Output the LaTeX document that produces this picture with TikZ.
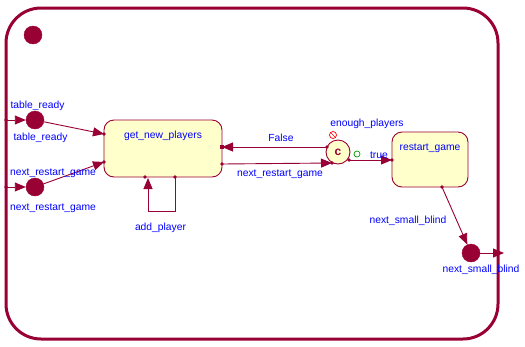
\documentclass[tikz,border=0pt]{standalone}
\usepackage{fontspec}
\setmainfont{Liberation Sans}
\usetikzlibrary{arrows.meta,calc}
\definecolor{dred}{RGB}{153,0,51}
\definecolor{lblue}{RGB}{0,0,255}
\definecolor{pale}{RGB}{255,255,204}
\tikzset{
  txt/.style={text=lblue, font=\fontsize{10.3}{12}\selectfont, inner sep=0pt, yshift=-2pt},
  dot/.style={circle, fill=dred, draw=dred, minimum size=18pt, inner sep=0pt},
  statebox/.style={draw=dred, fill=pale, line width=0.9pt, rounded corners=10pt, inner sep=0pt},
  conn/.style={draw=dred, line width=0.9pt},
  arr/.style={conn, -{Triangle[length=11pt,width=9pt]}},
  jdot/.style={circle, fill=dred, minimum size=3.6pt, inner sep=0pt},
}
\begin{document}
\begin{tikzpicture}[x=1pt,y=-1pt]
\useasboundingbox (0,0) rectangle (525,346);
% outer frame
\draw[dred, line width=3pt, rounded corners=35pt] (6,8) rectangle (498,339);
% initial
\node[dot] (init) at (33,35) {};
% entry points
\node[dot] (tr) at (35,120) {};
\node[dot] (nrg) at (35,187) {};
\coordinate (trin) at (6,120);
\coordinate (nrgin) at (6,187);
\node[jdot] at (trin) {};
\node[jdot] at (nrgin) {};
% states
\node[statebox, minimum width=118pt, minimum height=57pt] (gnp) at (163,148.5) {};
\node[txt] (gnpl) at (163,134) {get\_new\_players};
\node[statebox, minimum width=76pt, minimum height=55pt] (rg) at (430,159.5) {};
\node[txt] (rgl) at (430,146) {restart\_game};
% choice
\node[circle, draw=dred, fill=pale, line width=0.9pt, minimum size=24pt, inner sep=0pt, text=dred, font=\bfseries\fontsize{12}{14}\selectfont] (ch) at (338,152) {c};
% exit
\node[dot] (nsb) at (471,253) {};
\coordinate (nsbout) at (504,253);
% coordinates on boundaries
\coordinate (g1) at (104,134);
\coordinate (g2) at (104,162);
\coordinate (g3) at (222,147);
\coordinate (g4) at (222,164);
\coordinate (g5) at (145,177);
\coordinate (g6) at (175,177);
\coordinate (c1) at (327,147);
\coordinate (c2) at (332,163);
\coordinate (c3) at (349,160);
\coordinate (r1) at (392,160);
\coordinate (r2) at (442,187);
% connectors
\draw[arr] (trin) -- (tr.west);
\draw[arr] (nrgin) -- (nrg.west);
\draw[arr] (tr) -- (g1);
\draw[arr] (nrg) -- (g2);
\draw[arr] (g4) -- (c2);
\draw[arr] (c1) -- (g3);
\draw[arr] (c3) -- (r1);
\draw[arr] (r2) -- (nsb);
\draw[arr] (nsb) -- (nsbout);
\draw[arr] (g6) -- (175,211) -- (148,211) -- (148,178);
% junction dots
\foreach \p in {g1,g2,g4,g5,g6,c1,c2,c3,r1,r2} \node[jdot] at (\p) {};
\fill[dred] ($(g3)+(-2,-2)$) rectangle ($(g3)+(2,2)$);
% guard markers
\draw[red, line width=0.7pt] (333,135) circle (3.5pt);
\draw[red, line width=0.7pt] (330.5,132.5) -- (335.5,137.5);
\draw[green!60!black, line width=0.7pt] (357,154) circle (3pt);
% labels
\node[txt] at (37.5,104) {table\_ready};
\node[txt] at (40.5,136) {table\_ready};
\node[txt] at (53,171) {next\_restart\_game};
\node[txt] at (53,206.5) {next\_restart\_game};
\node[txt] at (160.5,226) {add\_player};
\node[txt] at (281,135.5) {False};
\node[txt] at (280,172) {next\_restart\_game};
\node[txt] at (367,121.5) {enough\_players};
\node[txt] at (379,153) {true};
\node[txt] at (408,219) {next\_small\_blind};
\node[txt] at (481,268) {next\_small\_blind};
\end{tikzpicture}
\end{document}
